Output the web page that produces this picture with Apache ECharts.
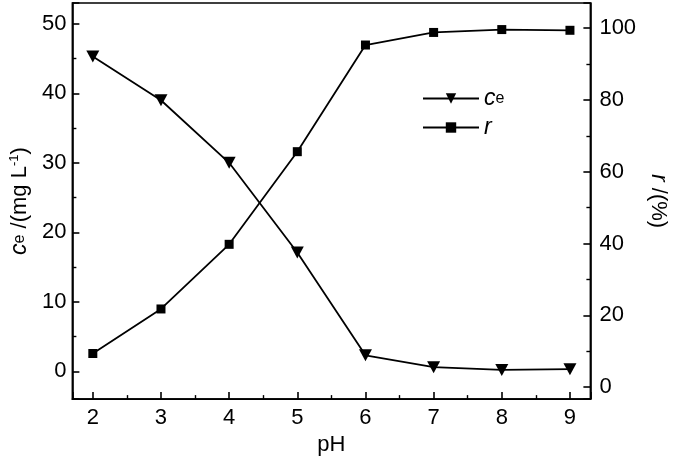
<!DOCTYPE html>
<html>
<head>
<meta charset="utf-8">
<script src="https://cdn.jsdelivr.net/npm/echarts@6/dist/echarts.min.js"></script>
<style>
  html, body { margin: 0; padding: 0; background: #fff; }
  #chart { width: 678px; height: 461px; }
</style>
</head>
<body>
<div id="chart"></div>
<script>
const phValues = [2, 3, 4, 5, 6, 7, 8, 9]
const ceValues = [45.3, 39.0, 30.0, 17.1, 2.3, 0.6, 0.2, 0.3]
const rValues = [9.4, 21.8, 39.8, 65.6, 95.3, 98.8, 99.6, 99.4]

const font = 'Liberation Sans, Arial, sans-serif'
const triangleDown = 'path://M0,0L10,0L5,9Z'

const chart = echarts.init(document.getElementById('chart'))

const pairs = values => phValues.map((x, i) => [x, values[i]])

const axisCommon = {
  axisLine: { show: true, onZero: false, lineStyle: { color: '#000', width: 1.6 } },
  axisTick: { show: true, inside: true, length: 7, lineStyle: { color: '#000', width: 1.6 } },
  minorTick: { show: true, splitNumber: 2, length: 4, lineStyle: { color: '#000', width: 1.4 } },
  splitLine: { show: false },
  axisLabel: { color: '#000', fontSize: 22, fontFamily: font, showMinLabel: false, showMaxLabel: false },
  nameTextStyle: { color: '#000', fontSize: 22, fontFamily: font }
}

chart.setOption({
  animation: false,
  backgroundColor: '#fff',
  grid: {
    left: 70,
    right: 66,
    top: 3,
    bottom: 55,
    show: true,
    borderColor: '#000',
    borderWidth: 1.6
  },
  legend: {
    orient: 'vertical',
    left: 417,
    top: 82,
    itemWidth: 56,
    itemHeight: 13,
    itemGap: 6,
    data: ['ce', 'r'],
    formatter: name => (name === 'ce' ? '{i|c}{s|e}' : '{i|r}'),
    textStyle: {
      color: '#000',
      fontFamily: font,
      fontSize: 22,
      rich: {
        i: { fontSize: 23, fontStyle: 'italic', fontFamily: font, color: '#000' },
        s: { fontSize: 16, fontFamily: font, color: '#000' }
      }
    }
  },
  xAxis: Object.assign({}, axisCommon, {
    type: 'value',
    min: 1.7,
    max: 9.3,
    splitNumber: 8,
    name: 'pH',
    nameLocation: 'middle',
    nameGap: 30,
    axisLabel: Object.assign({}, axisCommon.axisLabel, { margin: 8 })
  }),
  yAxis: [
    Object.assign({}, axisCommon, {
      type: 'value',
      position: 'left',
      min: -4,
      max: 53,
      splitNumber: 5,
      name: '{i|c}{s|e} /(mg L{p|-1})',
      nameLocation: 'middle',
      nameRotate: 90,
      nameGap: 38,
      nameTextStyle: {
        color: '#000',
        fontSize: 22,
        fontFamily: font,
        rich: {
          i: { fontSize: 23, fontStyle: 'italic', fontFamily: font, color: '#000' },
          s: { fontSize: 16, fontFamily: font, color: '#000' },
          p: { fontSize: 13, fontFamily: font, color: '#000', verticalAlign: 'top', padding: [0, 0, 10, 0] }
        }
      },
      axisLabel: Object.assign({}, axisCommon.axisLabel, { margin: 6 })
    }),
    Object.assign({}, axisCommon, {
      type: 'value',
      position: 'right',
      min: -3.3,
      max: 107,
      splitNumber: 5,
      name: '{i|r} /(%)',
      nameLocation: 'middle',
      nameRotate: -90,
      nameGap: 40,
      nameTextStyle: {
        color: '#000',
        fontSize: 22,
        fontFamily: font,
        rich: {
          i: { fontSize: 23, fontStyle: 'italic', fontFamily: font, color: '#000' }
        }
      },
      axisLabel: Object.assign({}, axisCommon.axisLabel, { margin: 9 })
    })
  ],
  series: [
    {
      name: 'ce',
      type: 'line',
      yAxisIndex: 0,
      data: pairs(ceValues),
      symbol: triangleDown,
      symbolSize: [13, 12],
      color: '#000',
      itemStyle: { color: '#000' },
      lineStyle: { color: '#000', width: 1.8 }
    },
    {
      name: 'r',
      type: 'line',
      yAxisIndex: 1,
      data: pairs(rValues),
      symbol: 'rect',
      symbolSize: 9,
      color: '#000',
      itemStyle: { color: '#000' },
      lineStyle: { color: '#000', width: 1.8 }
    }
  ]
})
</script>
</body>
</html>
